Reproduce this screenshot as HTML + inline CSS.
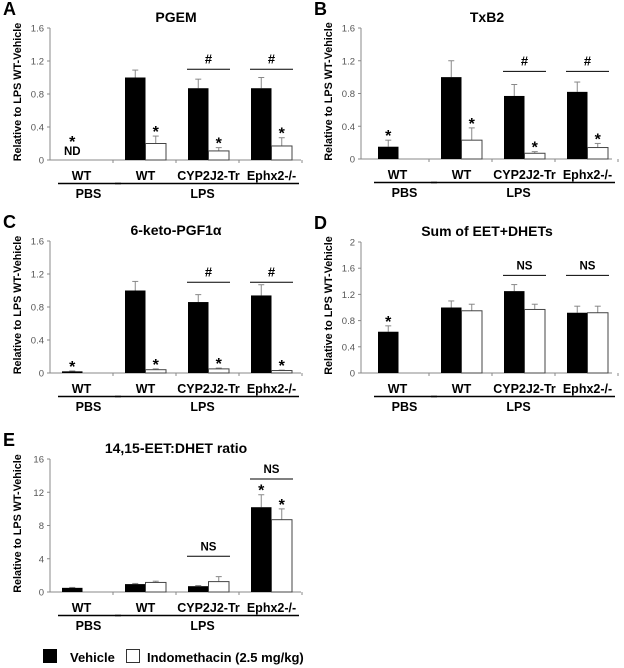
<!DOCTYPE html>
<html><head><meta charset="utf-8">
<style>
html,body{margin:0;padding:0;background:#fff;}
svg{display:block;font-family:"Liberation Sans",Arial,sans-serif;}
</style></head>
<body>
<svg id="fig" width="624" height="668" viewBox="0 0 624 668" xmlns="http://www.w3.org/2000/svg"></svg>
<script>
// ---------- DATA ----------
// groups: PBS-WT, LPS-WT, LPS-CYP2J2-Tr, LPS-Ephx2-/-
const groupLabels = ["WT", "WT", "CYP2J2-Tr", "Ephx2-/-"];
// Panel A PGEM
const aVeh = [0, 1.0, 0.87, 0.87];
const aVehErr = [0, 0.09, 0.11, 0.13];
const aInd = [null, 0.20, 0.11, 0.17];
const aIndErr = [0, 0.09, 0.04, 0.10];
const aTicks = [0, 0.4, 0.8, 1.2, 1.6];
// Panel B TxB2
const bVeh = [0.15, 1.0, 0.77, 0.82];
const bVehErr = [0.08, 0.20, 0.14, 0.12];
const bInd = [null, 0.23, 0.07, 0.14];
const bIndErr = [0, 0.15, 0.02, 0.05];
const bTicks = [0, 0.4, 0.8, 1.2, 1.6];
// Panel C 6-keto-PGF1a
const cVeh = [0.02, 1.0, 0.86, 0.94];
const cVehErr = [0.005, 0.11, 0.09, 0.13];
const cInd = [null, 0.04, 0.05, 0.03];
const cIndErr = [0, 0.01, 0.01, 0.005];
const cTicks = [0, 0.4, 0.8, 1.2, 1.6];
// Panel D Sum of EET+DHETs
const dVeh = [0.63, 1.0, 1.25, 0.92];
const dVehErr = [0.09, 0.10, 0.10, 0.10];
const dInd = [null, 0.95, 0.97, 0.92];
const dIndErr = [0, 0.10, 0.08, 0.10];
const dTicks = [0, 0.4, 0.8, 1.2, 1.6, 2];
// Panel E 14,15-EET:DHET ratio
const eVeh = [0.5, 0.95, 0.7, 10.2];
const eVehErr = [0.05, 0.08, 0.08, 1.5];
const eInd = [null, 1.15, 1.25, 8.7];
const eIndErr = [0, 0.15, 0.6, 1.3];
const eTicks = [0, 4, 8, 12, 16];

// ---------- RENDER ----------
const NS = "http://www.w3.org/2000/svg";
const svg = document.getElementById("fig");
function mk(tag, attrs, parent, text) {
  const e = document.createElementNS(NS, tag);
  for (const k in attrs) e.setAttribute(k, attrs[k]);
  if (text !== undefined) e.textContent = text;
  (parent || svg).appendChild(e);
  return e;
}
function fmt(v){ return (Math.round(v*10)/10).toString(); }

function panel(cfg) {
  const g = mk("g", {});
  
  
  const ax = cfg.ax, top = cfg.top, bot = cfg.bot, max = cfg.ticks[cfg.ticks.length-1];
  const y = v => bot - v / max * (bot - top);
  const bw = 20.5;
  const gx = i => cfg.g0 + i * 63;
  const L = mk("text", {x: ax - 47, y: top - 13, "font-size": 18, "font-weight": "bold"}, g, cfg.id);
  
  
  const T = mk("text", {x: ax + 126, y: top - 6, "font-size": 14, "font-weight": "bold", "text-anchor": "middle"}, g, cfg.title);
  
  
  const yt = mk("text", {x: 0, y: 0, "font-size": 10.8, "font-weight": "bold", "text-anchor": "middle",
    transform: "translate(" + (ax - 29) + "," + ((top + bot) / 2 - 2) + ") rotate(-90)"}, g, "Relative to LPS WT-Vehicle");
  
  
  const ya = mk("line", {x1: ax, y1: top, x2: ax, y2: bot, stroke: "#888", "stroke-width": 1}, g);
  
  
  cfg.ticks.forEach(t => {
    mk("line", {x1: ax - 3, y1: y(t), x2: ax, y2: y(t), stroke: "#888"}, g);
    const tl = mk("text", {x: ax - 6, y: y(t) + 3.5, "font-size": 9.5, fill: "#555", "text-anchor": "end"}, g, fmt(t));
    
    
  });
  const xa = mk("line", {x1: ax, y1: bot, x2: ax + 251, y2: bot, stroke: "#888"}, g);
  
  
  [0,1,2,3].forEach(i => { const tx = gx(i) + 2*bw + 10; mk("line", {x1: tx, y1: bot, x2: tx, y2: bot + 3, stroke: "#888"}, g); });
  for (let i = 0; i < 4; i++) {
    const x0 = gx(i);
    const v = cfg.veh[i];
    if (v > 0) {
      const ey = y(v + cfg.vehErr[i]);
      mk("line", {x1: x0 + bw/2, y1: y(v), x2: x0 + bw/2, y2: ey, stroke: "#888"}, g);
      mk("line", {x1: x0 + bw/2 - 3, y1: ey, x2: x0 + bw/2 + 3, y2: ey, stroke: "#888"}, g);
      const r = mk("rect", {x: x0, y: y(v), width: bw, height: bot - y(v), fill: "#000"}, g);
      
      
    }
    const w = cfg.ind[i];
    if (w !== null) {
      const x1 = x0 + bw;
      const ey = y(w + cfg.indErr[i]);
      mk("line", {x1: x1 + bw/2, y1: y(w), x2: x1 + bw/2, y2: ey, stroke: "#888"}, g);
      mk("line", {x1: x1 + bw/2 - 3, y1: ey, x2: x1 + bw/2 + 3, y2: ey, stroke: "#888"}, g);
      const r = mk("rect", {x: x1, y: y(w), width: bw, height: bot - y(w), fill: "#fff", stroke: "#444", "stroke-width": 1}, g);
      
      
    }
  }
  cfg.starsVeh.forEach(i => {
    const tp = cfg.veh[i] + cfg.vehErr[i];
    mk("text", {x: gx(i) + bw/2, y: y(tp) + 1 + (cfg.nd && i===0 ? -14 : 0), "font-size": 16, "font-weight": "bold", "text-anchor": "middle"}, g, "*");
  });
  cfg.starsInd.forEach(i => {
    const tp = cfg.ind[i] + cfg.indErr[i];
    mk("text", {x: gx(i) + bw*1.5, y: y(tp) + 1, "font-size": 16, "font-weight": "bold", "text-anchor": "middle"}, g, "*");
  });
  if (cfg.nd) mk("text", {x: gx(0) + bw/2, y: bot - 5, "font-size": 11.5, "font-weight": "bold", "text-anchor": "middle"}, g, "ND");
  cfg.brackets.forEach(b => {
    const by = y(b[1]);
    const bl = mk("line", {x1: gx(b[0]) - 1, y1: by, x2: gx(b[0]) + 2*bw + 1, y2: by, stroke: "#000"}, g);
    
    
    mk("text", {x: gx(b[0]) + bw, y: by - 6, "font-size": b[2]==="#"?13:11.5, "font-weight": "bold", "text-anchor": "middle"}, g, b[2]);
  });
  const ly = bot + 20;
  for (let i = 0; i < 4; i++) {
    const t = mk("text", {x: gx(i) + bw + (i===0?-1:0), y: ly, "font-size": 12.5, "font-weight": "bold", "text-anchor": "middle"}, g, groupLabels[i]);
    
    
  }
  mk("line", {x1: gx(0) - 4, y1: ly + 3.5, x2: gx(0) + 2*bw + 18, y2: ly + 3.5, stroke: "#000", "stroke-width": 1.6}, g);
  mk("line", {x1: gx(1) - 10, y1: ly + 3.5, x2: gx(3) + 2*bw + 7, y2: ly + 3.5, stroke: "#000", "stroke-width": 1.6}, g);
  mk("text", {x: gx(0) + bw + 6, y: ly + 18, "font-size": 12.5, "font-weight": "bold", "text-anchor": "middle"}, g, "PBS");
  mk("text", {x: gx(2) + bw - 6, y: ly + 18, "font-size": 12.5, "font-weight": "bold", "text-anchor": "middle"}, g, "LPS");
}

panel({id:"A", title:"PGEM", ax:50, top:28, bot:160, g0:62, ticks:aTicks, veh:aVeh, vehErr:aVehErr, ind:aInd, indErr:aIndErr,
  starsVeh:[0], starsInd:[1,2,3], nd:true, brackets:[[2,1.1,"#"],[3,1.1,"#"]]});
panel({id:"B", title:"TxB2", ax:361, top:28, bot:159, g0:378, ticks:bTicks, veh:bVeh, vehErr:bVehErr, ind:bInd, indErr:bIndErr,
  starsVeh:[0], starsInd:[1,2,3], nd:false, brackets:[[2,1.07,"#"],[3,1.07,"#"]]});
panel({id:"C", title:"6-keto-PGF1\u03b1", ax:50, top:241, bot:373, g0:62, ticks:cTicks, veh:cVeh, vehErr:cVehErr, ind:cInd, indErr:cIndErr,
  starsVeh:[0], starsInd:[1,2,3], nd:false, brackets:[[2,1.1,"#"],[3,1.1,"#"]]});
panel({id:"D", title:"Sum of EET+DHETs", ax:361, top:242, bot:373, g0:378, ticks:dTicks, veh:dVeh, vehErr:dVehErr, ind:dInd, indErr:dIndErr,
  starsVeh:[0], starsInd:[], nd:false, brackets:[[2,1.49,"NS"],[3,1.49,"NS"]]});
panel({id:"E", title:"14,15-EET:DHET ratio", ax:50, top:459, bot:592, g0:62, ticks:eTicks, veh:eVeh, vehErr:eVehErr, ind:eInd, indErr:eIndErr,
  starsVeh:[3], starsInd:[3], nd:false, brackets:[[2,4.3,"NS"],[3,13.6,"NS"]]});

const lg = mk("g", {});


mk("rect", {x: 43, y: 649, width: 14, height: 14, fill: "#000"}, lg);
mk("text", {x: 70, y: 662, "font-size": 13, "font-weight": "bold"}, lg, "Vehicle");
mk("rect", {x: 126.5, y: 649.5, width: 13, height: 13, fill: "#fff", stroke: "#333"}, lg);
mk("text", {x: 147, y: 662, "font-size": 13, "font-weight": "bold"}, lg, "Indomethacin (2.5 mg/kg)");
</script>
</body></html>
